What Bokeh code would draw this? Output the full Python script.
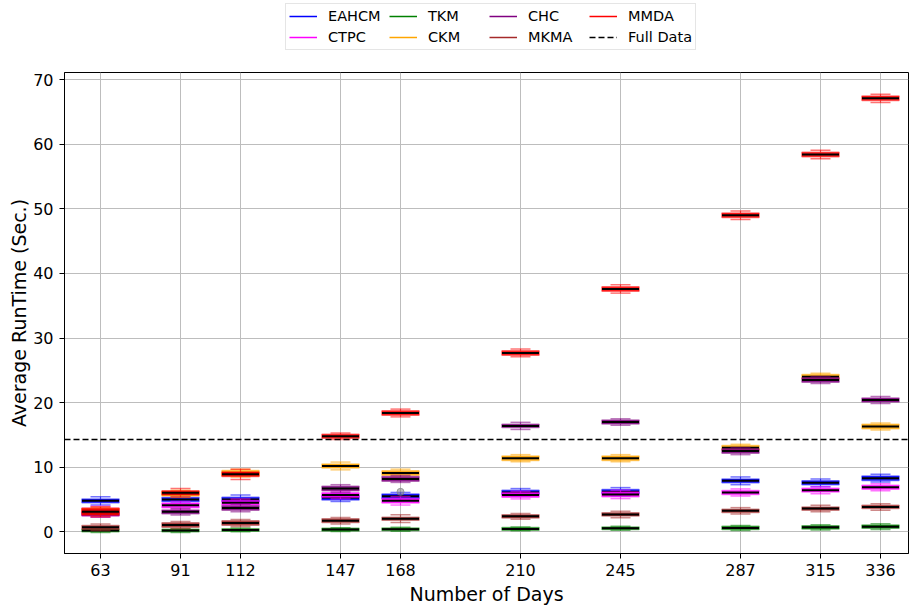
from bokeh.plotting import figure
from bokeh.layouts import column
from bokeh.models import Legend, LegendItem, FixedTicker, Range1d
from bokeh.embed import file_html
from bokeh.resources import INLINE

# Window sizes (number of days) on the x axis
DAYS = [63, 91, 112, 147, 168, 210, 245, 287, 315, 336]

# Per-method medians, half box height (half IQR) and whisker reach beyond the box
EAHCM_MED = [4.8, 5.0, 5.0, 5.3, 5.5, 6.1, 6.2, 7.9, 7.6, 8.3]
EAHCM_BOX = [0.3, 0.3, 0.35, 0.35, 0.35, 0.35, 0.35, 0.3, 0.3, 0.35]
EAHCM_WSK = [0.35, 0.25, 0.35, 0.25, 0.25, 0.25, 0.3, 0.3, 0.3, 0.25]

CTPC_MED = [3.1, 4.1, 4.5, 5.7, 4.8, 5.7, 5.8, 6.1, 6.45, 6.9]
CTPC_BOX = [0.6, 0.35, 0.35, 0.35, 0.35, 0.35, 0.35, 0.3, 0.3, 0.3]
CTPC_WSK = [0.25, 0.25, 0.25, 0.25, 0.3, 0.25, 0.3, 0.25, 0.25, 0.25]

TKM_MED = [0.2, 0.2, 0.3, 0.35, 0.4, 0.46, 0.55, 0.6, 0.7, 0.8]
TKM_BOX = [0.2, 0.2, 0.2, 0.2, 0.2, 0.2, 0.2, 0.25, 0.25, 0.25]
TKM_WSK = [0.1, 0.1, 0.1, 0.1, 0.1, 0.1, 0.1, 0.15, 0.15, 0.2]

CKM_MED = [3.3, 5.9, 9.1, 10.2, 9.1, 11.4, 11.4, 13.0, 24.0, 16.3]
CKM_BOX = [0.35, 0.35, 0.4, 0.3, 0.35, 0.35, 0.35, 0.35, 0.35, 0.35]
CKM_WSK = [0.2, 0.2, 0.2, 0.3, 0.25, 0.2, 0.2, 0.2, 0.2, 0.2]

CHC_MED = [2.8, 3.1, 3.7, 6.7, 8.2, 16.4, 17.0, 12.5, 23.5, 20.4]
CHC_BOX = [0.3, 0.3, 0.35, 0.35, 0.35, 0.25, 0.3, 0.35, 0.35, 0.3]
CHC_WSK = [0.2, 0.2, 0.25, 0.25, 0.2, 0.3, 0.2, 0.2, 0.2, 0.25]

MKMA_MED = [0.7, 1.07, 1.37, 1.73, 2.03, 2.4, 2.7, 3.25, 3.6, 3.86]
MKMA_BOX = [0.3, 0.35, 0.35, 0.3, 0.25, 0.25, 0.25, 0.25, 0.25, 0.25]
MKMA_WSK = [0.2, 0.2, 0.2, 0.2, 0.35, 0.2, 0.25, 0.25, 0.25, 0.25]

MMDA_MED = [3.1, 6.05, 8.9, 14.8, 18.4, 27.7, 37.6, 49.0, 58.4, 67.1]
MMDA_BOX = [0.5, 0.3, 0.35, 0.3, 0.35, 0.35, 0.35, 0.35, 0.35, 0.35]
MMDA_WSK = [0.25, 0.35, 0.45, 0.2, 0.25, 0.25, 0.3, 0.3, 0.3, 0.3]

FULL_DATA = 14.3

# Single outlier shown at day 168
FLIER_DAYS = [168]
FLIER_VALS = [6.2]

SERIES = [
    ("EAHCM", "blue", EAHCM_MED, EAHCM_BOX, EAHCM_WSK),
    ("CTPC", "magenta", CTPC_MED, CTPC_BOX, CTPC_WSK),
    ("TKM", "green", TKM_MED, TKM_BOX, TKM_WSK),
    ("CKM", "orange", CKM_MED, CKM_BOX, CKM_WSK),
    ("CHC", "purple", CHC_MED, CHC_BOX, CHC_WSK),
    ("MKMA", "brown", MKMA_MED, MKMA_BOX, MKMA_WSK),
    ("MMDA", "red", MMDA_MED, MMDA_BOX, MMDA_WSK),
]

# Legend grid order (row by row)
LEGEND_ORDER = ["EAHCM", "TKM", "CHC", "MMDA", "CTPC", "CKM", "MKMA", "Full Data"]

BOX_W = 13          # box width in days
BOX_PX = 37         # same width in screen pixels, for the median marks
CAP_PX = 20
X_MIN, X_MAX = 50.4, 345.8
Y_MIN, Y_MAX = -3.35, 71.1
FONT = "DejaVu Sans"
NAN = float("nan")

p = figure(
    width=909, height=552,
    x_range=Range1d(X_MIN, X_MAX), y_range=Range1d(Y_MIN, Y_MAX),
    output_backend="svg", toolbar_location=None,
    min_border_left=64, min_border_right=1, min_border_top=17, min_border_bottom=47,
)
p.background_fill_color = "white"
p.border_fill_color = "white"
p.outline_line_color = "black"
p.outline_line_width = 1

for ax in (p.xaxis, p.yaxis):
    ax.major_label_text_font = FONT
    ax.major_label_text_font_size = "16px"
    ax.major_label_text_color = "black"
    ax.axis_label_text_font = FONT
    ax.axis_label_text_font_size = "19px"
    ax.axis_label_text_font_style = "normal"
    ax.axis_label_text_color = "black"
    ax.minor_tick_line_color = None
    ax.major_tick_out = 5
    ax.major_tick_in = 0
    ax.axis_line_color = "black"

p.xaxis.ticker = FixedTicker(ticks=DAYS)
p.yaxis.ticker = FixedTicker(ticks=[0, 10, 20, 30, 40, 50, 60, 70])
p.xaxis.axis_label = "Number of Days"
p.yaxis.axis_label = "Average RunTime (Sec.)"
p.xaxis.axis_label_standoff = 4
p.yaxis.major_label_standoff = 6
p.yaxis.axis_label_standoff = 0

p.grid.grid_line_color = "#bdbdbd"
p.grid.grid_line_width = 1

for name, color, med, box, wsk in SERIES:
    q1 = [m - b for m, b in zip(med, box)]
    q3 = [m + b for m, b in zip(med, box)]
    lo = [a - w for a, w in zip(q1, wsk)]
    hi = [a + w for a, w in zip(q3, wsk)]
    # whiskers
    p.segment(x0=DAYS, y0=q1, x1=DAYS, y1=lo, line_color=color, line_alpha=0.55, line_width=1.2)
    p.segment(x0=DAYS, y0=q3, x1=DAYS, y1=hi, line_color=color, line_alpha=0.55, line_width=1.2)
    # caps
    p.scatter(x=DAYS, y=lo, marker="dash", size=CAP_PX, line_color=color, line_alpha=0.55, line_width=1.5)
    p.scatter(x=DAYS, y=hi, marker="dash", size=CAP_PX, line_color=color, line_alpha=0.55, line_width=1.5)
    # box
    p.vbar(x=DAYS, width=BOX_W, bottom=q1, top=q3, fill_color=color, fill_alpha=0.85,
           line_color=color, line_alpha=0.5, line_width=1.5)
    # median
    p.scatter(x=DAYS, y=med, marker="dash", size=BOX_PX, line_color="black", line_width=2)

p.scatter(x=FLIER_DAYS, y=FLIER_VALS, size=7, marker="circle", fill_color="gray",
          fill_alpha=0.5, line_color="gray", line_alpha=0.7)

p.line(x=[X_MIN, X_MAX], y=[FULL_DATA, FULL_DATA], line_color="black",
       line_dash="6 3", line_width=1.5)

# Legend strip above the plot
leg_fig = figure(
    width=909, height=55, x_range=Range1d(0, 1), y_range=Range1d(0, 1),
    output_backend="svg", toolbar_location=None,
    x_axis_location=None, y_axis_location=None, min_border=0,
)
leg_fig.grid.visible = False
leg_fig.outline_line_color = None
leg_fig.border_fill_color = "white"

colors = {name: color for name, color, *_ in SERIES}
handles = {}
for name in LEGEND_ORDER:
    if name == "Full Data":
        handles[name] = leg_fig.line(x=[NAN], y=[NAN], line_color="black",
                                     line_dash="6 3", line_width=1.5)
    else:
        handles[name] = leg_fig.line(x=[NAN], y=[NAN], line_color=colors[name], line_width=1.5)

legend = Legend(
    items=[LegendItem(label=n, renderers=[handles[n]]) for n in LEGEND_ORDER],
    orientation="horizontal", nrows=2,
    location=(221, 5), label_text_font=FONT, label_text_font_size="14.5px",
    label_text_color="black", glyph_width=28, glyph_height=18, label_standoff=11,
    label_width=58, label_height=18,
    spacing=3, padding=3, margin=0,
    border_line_color="#cccccc", border_line_width=1, background_fill_alpha=1,
)
leg_fig.add_layout(legend, "center")

layout = column(leg_fig, p, spacing=0)

open("out.html", "w").write(file_html(layout, INLINE))
